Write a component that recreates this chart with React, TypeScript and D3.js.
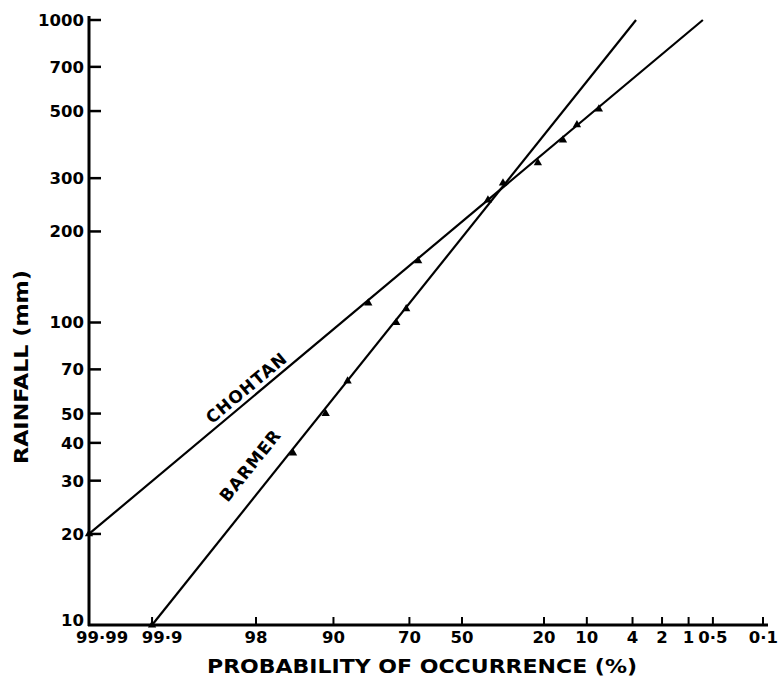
import React from 'react';
import * as d3 from 'd3';

// probability of occurrence (%) and rainfall (mm)
const chohtanP = [99.99, 82.5, 66.9, 39.5, 21.8, 15.0, 11.9, 8.0];
const chohtanMm = [20, 116, 160, 254, 337, 401, 450, 508];
const barmerP = [99.9, 95.4, 91.3, 87.3, 74.4, 71.1, 33.7];
const barmerMm = [10, 37, 50, 64, 100, 111, 289];

// fitted straight lines (end points)
const chohtanFitP = [99.99, 0.67];
const chohtanFitMm = [20, 1000];
const barmerFitP = [99.9, 3.7];
const barmerFitMm = [10, 1000];

const yTicks = [1000, 700, 500, 300, 200, 100, 70, 50, 40, 30, 20, 10];
const xTicks = [99.99, 99.9, 98, 90, 70, 50, 20, 10, 4, 2, 1, 0.5, 0.1];
const xTickLabels = ['99·99', '99·9', '98', '90', '70', '50', '20', '10', '4', '2', '1', '0·5', '0·1'];

// inverse normal cdf (Acklam)
function probit(p: number): number {
  const a = [-39.69683028665376, 220.9460984245205, -275.9285104469687, 138.357751867269, -30.66479806614716, 2.506628277459239];
  const b = [-54.47609879822406, 161.5858368580409, -155.6989798598866, 66.80131188771972, -13.28068155288572];
  const c = [-0.007784894002430293, -0.3223964580411365, -2.400758277161838, -2.549732539343734, 4.374664141464968, 2.938163982698783];
  const d = [0.007784695709041462, 0.3224671290700398, 2.445134137142996, 3.754408661907416];
  const pl = 0.02425;
  if (p < pl) {
    const q = Math.sqrt(-2 * Math.log(p));
    return (((((c[0] * q + c[1]) * q + c[2]) * q + c[3]) * q + c[4]) * q + c[5]) / ((((d[0] * q + d[1]) * q + d[2]) * q + d[3]) * q + 1);
  }
  if (p > 1 - pl) {
    const q = Math.sqrt(-2 * Math.log(1 - p));
    return -(((((c[0] * q + c[1]) * q + c[2]) * q + c[3]) * q + c[4]) * q + c[5]) / ((((d[0] * q + d[1]) * q + d[2]) * q + d[3]) * q + 1);
  }
  const q = p - 0.5;
  const r = q * q;
  return (((((a[0] * r + a[1]) * r + a[2]) * r + a[3]) * r + a[4]) * r + a[5]) * q / (((((b[0] * r + b[1]) * r + b[2]) * r + b[3]) * r + b[4]) * r + 1);
}
const zOf = (pct: number) => probit(1 - pct / 100);

const W = 779;
const H = 693;
const FONT = '"DejaVu Sans", sans-serif';

const App = () => {
  const xz = d3.scaleLinear().domain([zOf(99.99), 0, zOf(0.1)]).range([89, 462, 763]);
  const x = (p: number) => xz(zOf(p));
  const y = d3.scaleLog().domain([10, 1000]).range([625, 20]);

  const line = d3.line<[number, number]>().x(d => x(d[0])).y(d => y(d[1]));
  const tri = d3.symbol().type(d3.symbolTriangle).size(30)()!;

  const fits = [
    { name: 'CHOHTAN', p: chohtanFitP, mm: chohtanFitMm, t: 0.268, off: -5 },
    { name: 'BARMER', p: barmerFitP, mm: barmerFitMm, t: 0.24, off: -17 },
  ];
  const pts = [
    ...chohtanP.map((p, i) => [p, chohtanMm[i]] as [number, number]),
    ...barmerP.map((p, i) => [p, barmerMm[i]] as [number, number]),
  ];

  const axisY = y(10);
  const last = xTicks.length - 1;

  return (
    <svg width={W} height={H} style={{ position: 'absolute', left: 0, top: 0, background: '#fff' }}
      fontFamily={FONT} fontWeight="bold">
      {/* axes */}
      <line x1={89} x2={89} y1={16} y2={axisY + 1} stroke="#000" strokeWidth={3} />
      <line x1={88} x2={768} y1={axisY} y2={axisY} stroke="#000" strokeWidth={3} />

      {yTicks.map(v => (
        <g key={v}>
          {v !== 10 && <line x1={89} x2={101} y1={y(v)} y2={y(v)} stroke="#000" strokeWidth={2.5} />}
          <text x={84} y={v === 10 ? y(v) - 5 : y(v)} dy="0.36em" textAnchor="end" fontSize={16.5}>{v}</text>
        </g>
      ))}

      {xTicks.map((p, i) => (
        <g key={p}>
          {i > 0 && <line x1={x(p)} x2={x(p)} y1={axisY} y2={axisY - 8} stroke="#000" strokeWidth={2} />}
          <text
            x={i === 0 ? x(p) - 13 : i === last ? 778 : x(p) + (i === 1 ? 10 : 0)}
            y={axisY + 18}
            textAnchor={i === 0 ? 'start' : i === last ? 'end' : 'middle'}
            fontSize={16.5}>
            {xTickLabels[i]}
          </text>
        </g>
      ))}

      {/* fitted lines */}
      {fits.map(f => {
        const d: [number, number][] = f.p.map((p, i) => [p, f.mm[i]]);
        const x0 = x(f.p[0]), y0 = y(f.mm[0]), x1 = x(f.p[1]), y1 = y(f.mm[1]);
        const ang = Math.atan2(y1 - y0, x1 - x0) * 180 / Math.PI;
        const lx = x0 + (x1 - x0) * f.t, ly = y0 + (y1 - y0) * f.t;
        return (
          <g key={f.name}>
            <path d={line(d)!} fill="none" stroke="#000" strokeWidth={2.2} />
            <text transform={`translate(${lx},${ly}) rotate(${ang})`} dy={f.off} textAnchor="middle"
              fontSize={17} letterSpacing={1}>{f.name}</text>
          </g>
        );
      })}

      {pts.map((d, i) => (
        <path key={i} d={tri} transform={`translate(${x(d[0])},${y(d[1])})`} fill="#000" />
      ))}

      {/* axis titles */}
      <text x={422} y={673} textAnchor="middle" fontSize={20} textLength={430} lengthAdjust="spacingAndGlyphs">
        PROBABILITY OF OCCURRENCE (%)
      </text>
      <text transform="translate(28,367) rotate(-90)" textAnchor="middle" fontSize={20}
        textLength={194} lengthAdjust="spacingAndGlyphs">
        RAINFALL (mm)
      </text>
    </svg>
  );
};

export default App;
